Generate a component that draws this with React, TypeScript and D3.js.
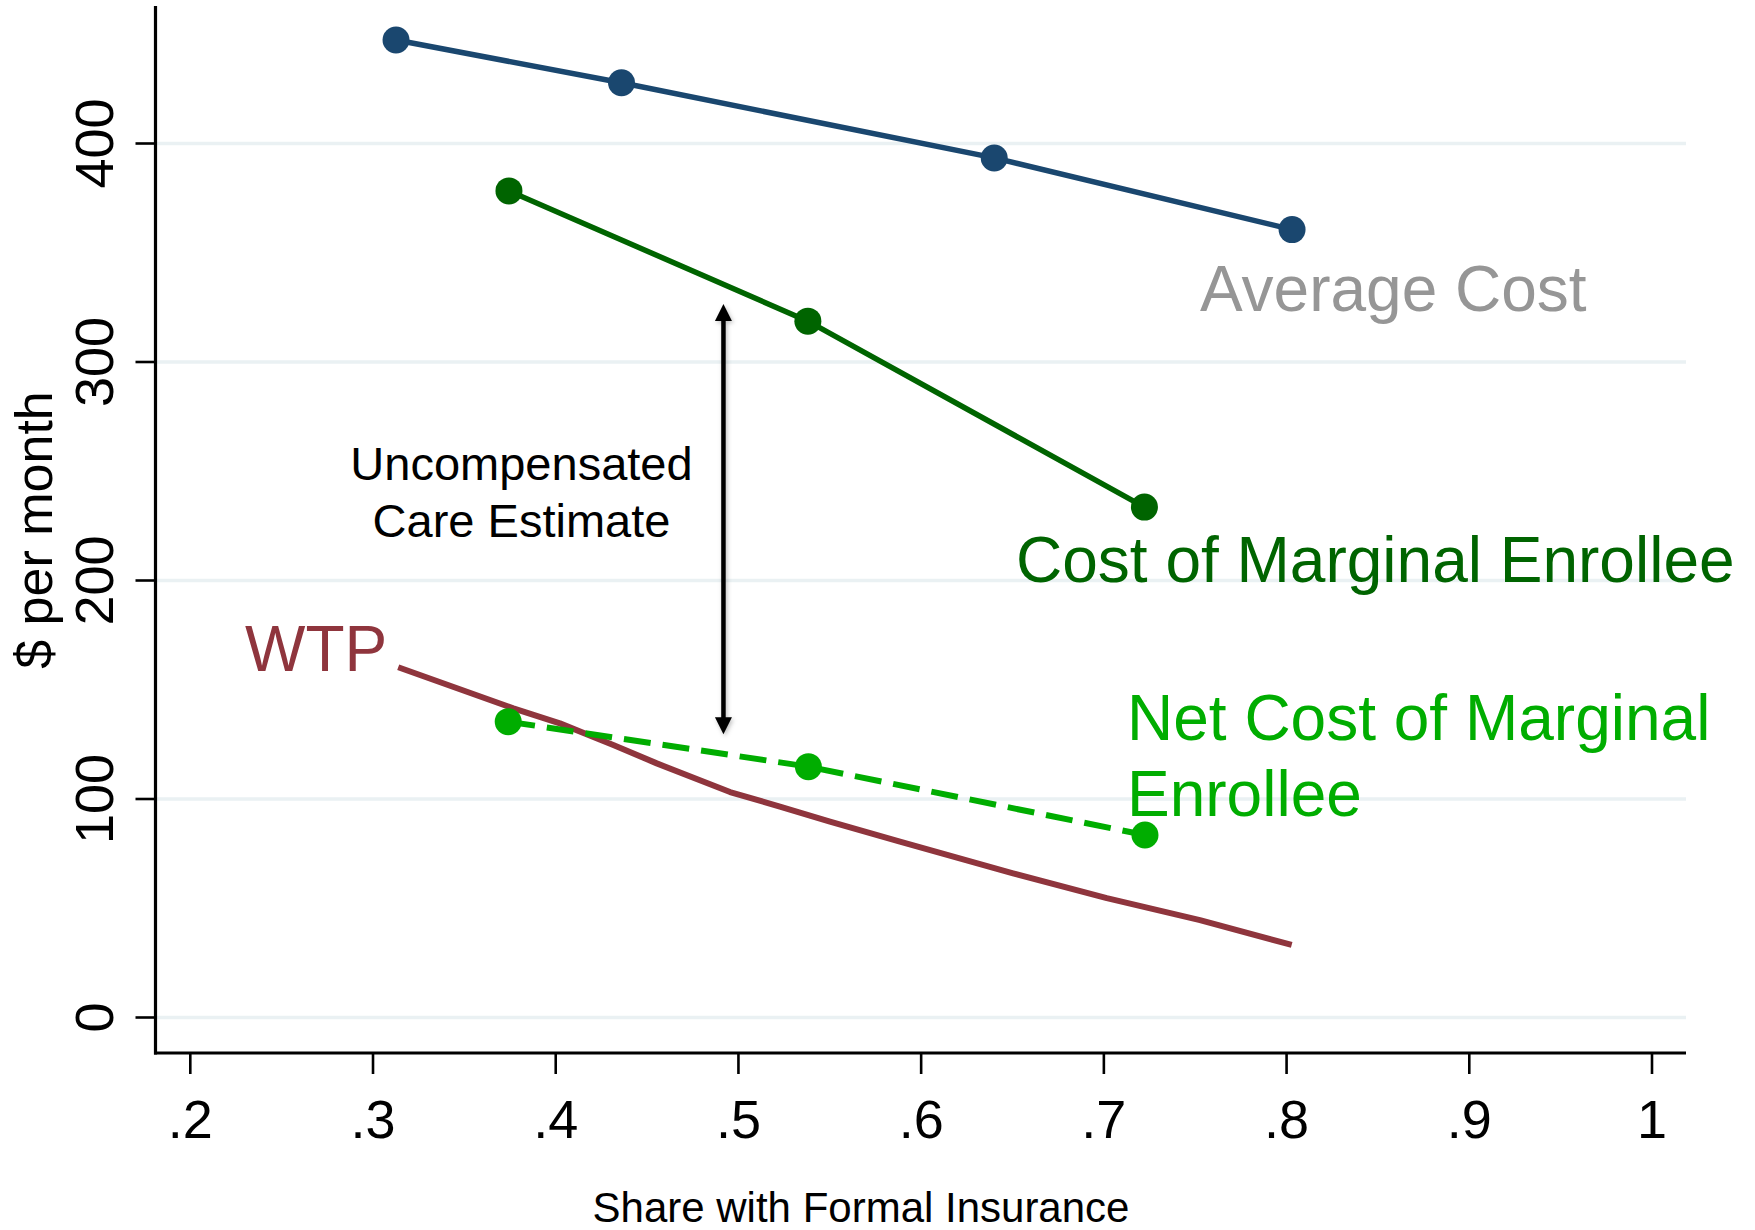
import React from "react";
import * as d3 from "d3";

const W = 1755;
const H = 1230;

// Data
const avgCostX = [0.3126, 0.436, 0.640, 0.803];
const avgCostY = [447.4, 427.8, 393.4, 360.6];

const margCostX = [0.3744, 0.538, 0.7222];
const margCostY = [378.3, 318.7, 233.6];

const netCostX = [0.374, 0.5383, 0.7225];
const netCostY = [135.4, 114.8, 83.5];

const wtpX = [0.3138, 0.3768, 0.4023, 0.4315, 0.4553, 0.4954, 0.5227, 0.5501, 0.5884, 0.6503, 0.7016, 0.7526, 0.8028];
const wtpY = [160.3, 141.5, 134.6, 124.7, 116.3, 103.2, 96.5, 89.6, 80.5, 66.0, 54.6, 44.6, 33.2];

const xTicks = [0.2, 0.3, 0.4, 0.5, 0.6, 0.7, 0.8, 0.9, 1];
const xTickLabels = [".2", ".3", ".4", ".5", ".6", ".7", ".8", ".9", "1"];
const yTicks = [0, 100, 200, 300, 400];
const yTickLabels = ["0", "100", "200", "300", "400"];

const arrowX = 0.4918;
const arrowTop = 326.5;
const arrowBottom = 129.6;

const FONT = "'Liberation Sans', Arial, Helvetica, sans-serif";

const C_NAVY = "#1a476f";
const C_DKGREEN = "#006400";
const C_GREEN = "#00ad00";
const C_WTP = "#8f353d";
const C_GRAY = "#969696";
const C_GRID = "#eaf1f3";

export default function App() {
  const x = d3.scaleLinear().domain([0.2, 1]).range([190.3, 1652]);
  const y = d3.scaleLinear().domain([0, 400]).range([1017.5, 143.5]);

  const axisLeft = 155.5;
  const axisBottom = 1053;
  const axisRight = 1686;
  const axisTop = 6;

  const line = d3
    .line<[number, number]>()
    .x((d) => x(d[0]))
    .y((d) => y(d[1]));

  const zip = (xs: number[], ys: number[]) => xs.map((v, i) => [v, ys[i]] as [number, number]);

  const avg = zip(avgCostX, avgCostY);
  const marg = zip(margCostX, margCostY);
  const net = zip(netCostX, netCostY);
  const wtp = zip(wtpX, wtpY);

  const ax = x(arrowX);
  const aTop = y(arrowTop);
  const aBot = y(arrowBottom);
  const headL = 17;
  const headW = 8.5;

  return (
    <svg
      width={W}
      height={H}
      style={{ position: "absolute", left: 0, top: 0, background: "#fff" }}
      fontFamily={FONT}
    >
      <defs>
        <filter id="shadow" x="-50%" y="-10%" width="200%" height="120%">
          <feDropShadow dx="1.5" dy="2" stdDeviation="2" floodColor="#000" floodOpacity="0.25" />
        </filter>
      </defs>
      <rect x={0} y={0} width={W} height={H} fill="#fff" />

      {/* gridlines */}
      {yTicks.map((t) => (
        <line key={"g" + t} x1={axisLeft} x2={axisRight} y1={y(t)} y2={y(t)} stroke={C_GRID} strokeWidth={3.5} />
      ))}

      {/* axes */}
      <line x1={axisLeft} x2={axisLeft} y1={axisTop} y2={axisBottom + 1.5} stroke="#000" strokeWidth={3.2} />
      <line x1={axisLeft - 1.5} x2={axisRight} y1={axisBottom} y2={axisBottom} stroke="#000" strokeWidth={3.2} />

      {/* y ticks */}
      {yTicks.map((t, i) => (
        <g key={"yt" + t}>
          <line x1={axisLeft - 20} x2={axisLeft} y1={y(t)} y2={y(t)} stroke="#000" strokeWidth={2.6} />
          <text
            transform={`translate(113, ${y(t)}) rotate(-90)`}
            textAnchor="middle"
            fontSize={54}
            fill="#000"
          >
            {yTickLabels[i]}
          </text>
        </g>
      ))}

      {/* x ticks */}
      {xTicks.map((t, i) => (
        <g key={"xt" + t}>
          <line x1={x(t)} x2={x(t)} y1={axisBottom} y2={axisBottom + 21} stroke="#000" strokeWidth={2.6} />
          <text x={x(t)} y={1138} textAnchor="middle" fontSize={54} fill="#000">
            {xTickLabels[i]}
          </text>
        </g>
      ))}

      {/* axis titles */}
      <text x={861} y={1222} textAnchor="middle" fontSize={42} fill="#000">
        Share with Formal Insurance
      </text>
      <text transform="translate(52, 530) rotate(-90)" textAnchor="middle" fontSize={52} fill="#000">
        $ per month
      </text>

      {/* WTP line */}
      <path d={line(wtp) || ""} fill="none" stroke={C_WTP} strokeWidth={6} strokeLinejoin="round" />

      {/* Average cost */}
      <path d={line(avg) || ""} fill="none" stroke={C_NAVY} strokeWidth={5.5} />
      {avg.map((d, i) => (
        <circle key={"a" + i} cx={x(d[0])} cy={y(d[1])} r={13.5} fill={C_NAVY} />
      ))}

      {/* Cost of marginal enrollee */}
      <path d={line(marg) || ""} fill="none" stroke={C_DKGREEN} strokeWidth={5.5} />
      {marg.map((d, i) => (
        <circle key={"m" + i} cx={x(d[0])} cy={y(d[1])} r={13.5} fill={C_DKGREEN} />
      ))}

      {/* Net cost of marginal enrollee */}
      <path d={line(net) || ""} fill="none" stroke={C_GREEN} strokeWidth={6} strokeDasharray="27 12" />
      {net.map((d, i) => (
        <circle key={"n" + i} cx={x(d[0])} cy={y(d[1])} r={13.5} fill={C_GREEN} />
      ))}

      {/* double arrow */}
      <g filter="url(#shadow)">
        <line x1={ax} x2={ax} y1={aTop + headL - 2} y2={aBot - headL + 2} stroke="#000" strokeWidth={4.5} />
        <path d={`M${ax},${aTop} L${ax - headW},${aTop + headL} L${ax + headW},${aTop + headL} Z`} fill="#000" />
        <path d={`M${ax},${aBot} L${ax - headW},${aBot - headL} L${ax + headW},${aBot - headL} Z`} fill="#000" />
      </g>

      {/* labels */}
      <text x={1200} y={311} fontSize={64} fill={C_GRAY}>
        Average Cost
      </text>
      <text x={1016} y={582} fontSize={64} fill={C_DKGREEN}>
        Cost of Marginal Enrollee
      </text>
      <text x={1127} y={740} fontSize={64} fill={C_GREEN}>
        Net Cost of Marginal
      </text>
      <text x={1127} y={816} fontSize={64} fill={C_GREEN}>
        Enrollee
      </text>
      <text x={245} y={671} fontSize={64} fill={C_WTP}>
        WTP
      </text>
      <text x={521.5} y={480} textAnchor="middle" fontSize={47} fill="#000">
        Uncompensated
      </text>
      <text x={521.5} y={537} textAnchor="middle" fontSize={47} fill="#000">
        Care Estimate
      </text>
    </svg>
  );
}
